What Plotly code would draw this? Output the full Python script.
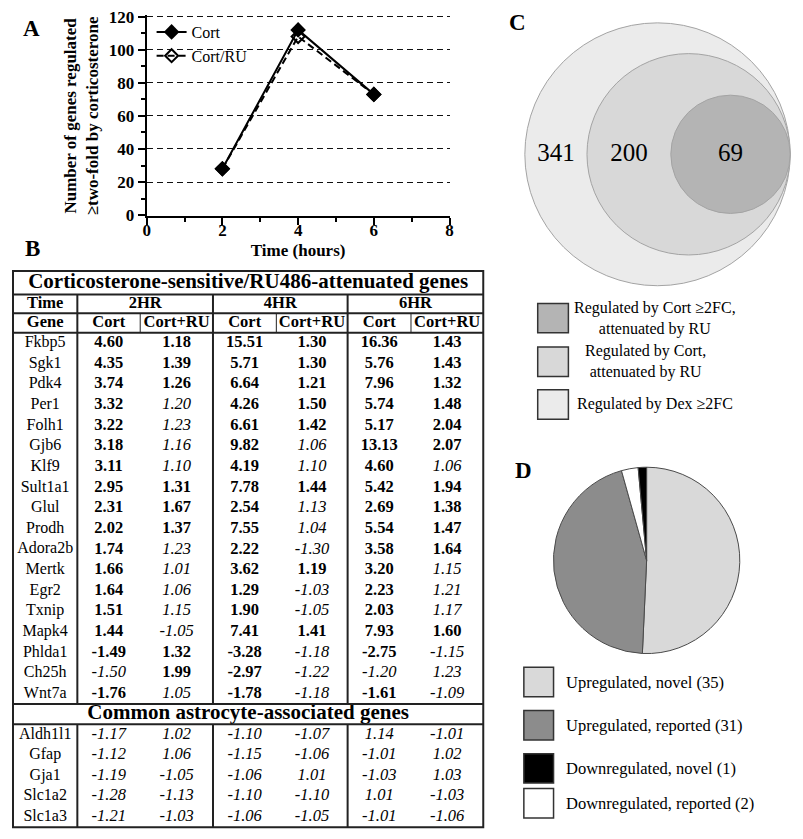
import math
import plotly.graph_objects as go

W, H = 803, 839
OFF = 8  # the page shows the figure shifted by the body margin
FONT = "Liberation Serif"

# ---------------- data ----------------
# A: number of genes regulated >= two-fold
time_hours = [2, 4, 6]
cort_counts = [28, 112, 73]
cort_ru_counts = [28, 108, 73]
x_ticks = [0, 2, 4, 6, 8]
y_ticks = [0, 20, 40, 60, 80, 100, 120]

# B: fold changes (2HR Cort, 2HR Cort+RU, 4HR Cort, 4HR Cort+RU, 6HR Cort, 6HR Cort+RU)
time_groups = ["2HR", "4HR", "6HR"]
treatments = ["Cort", "Cort+RU"]
table_title = "Corticosterone-sensitive/RU486-attenuated genes"
section_title = "Common astrocyte-associated genes"

genes_sensitive = ["Fkbp5", "Sgk1", "Pdk4", "Per1", "Folh1", "Gjb6", "Klf9", "Sult1a1",
                   "Glul", "Prodh", "Adora2b", "Mertk", "Egr2", "Txnip", "Mapk4",
                   "Phlda1", "Ch25h", "Wnt7a"]
fc_sensitive = [
    [4.60, 1.18, 15.51, 1.30, 16.36, 1.43],
    [4.35, 1.39, 5.71, 1.30, 5.76, 1.43],
    [3.74, 1.26, 6.64, 1.21, 7.96, 1.32],
    [3.32, 1.20, 4.26, 1.50, 5.74, 1.48],
    [3.22, 1.23, 6.61, 1.42, 5.17, 2.04],
    [3.18, 1.16, 9.82, 1.06, 13.13, 2.07],
    [3.11, 1.10, 4.19, 1.10, 4.60, 1.06],
    [2.95, 1.31, 7.78, 1.44, 5.42, 1.94],
    [2.31, 1.67, 2.54, 1.13, 2.69, 1.38],
    [2.02, 1.37, 7.55, 1.04, 5.54, 1.47],
    [1.74, 1.23, 2.22, -1.30, 3.58, 1.64],
    [1.66, 1.01, 3.62, 1.19, 3.20, 1.15],
    [1.64, 1.06, 1.29, -1.03, 2.23, 1.21],
    [1.51, 1.15, 1.90, -1.05, 2.03, 1.17],
    [1.44, -1.05, 7.41, 1.41, 7.93, 1.60],
    [-1.49, 1.32, -3.28, -1.18, -2.75, -1.15],
    [-1.50, 1.99, -2.97, -1.22, -1.20, 1.23],
    [-1.76, 1.05, -1.78, -1.18, -1.61, -1.09],
]
# 1 = significant (bold), 0 = not significant (italic)
sig_sensitive = [
    [1, 1, 1, 1, 1, 1],
    [1, 1, 1, 1, 1, 1],
    [1, 1, 1, 1, 1, 1],
    [1, 0, 1, 1, 1, 1],
    [1, 0, 1, 1, 1, 1],
    [1, 0, 1, 0, 1, 1],
    [1, 0, 1, 0, 1, 0],
    [1, 1, 1, 1, 1, 1],
    [1, 1, 1, 0, 1, 1],
    [1, 1, 1, 0, 1, 1],
    [1, 0, 1, 0, 1, 1],
    [1, 0, 1, 1, 1, 0],
    [1, 0, 1, 0, 1, 0],
    [1, 0, 1, 0, 1, 0],
    [1, 0, 1, 1, 1, 1],
    [1, 1, 1, 0, 1, 0],
    [0, 1, 1, 0, 0, 0],
    [1, 0, 1, 0, 1, 0],
]
genes_astro = ["Aldh1l1", "Gfap", "Gja1", "Slc1a2", "Slc1a3"]
fc_astro = [
    [-1.17, 1.02, -1.10, -1.07, 1.14, -1.01],
    [-1.12, 1.06, -1.15, -1.06, -1.01, 1.02],
    [-1.19, -1.05, -1.06, 1.01, -1.03, 1.03],
    [-1.28, -1.13, -1.10, -1.10, 1.01, -1.03],
    [-1.21, -1.03, -1.06, -1.05, -1.01, -1.06],
]

# C: nested gene sets (area proportional to count)
venn_counts = [341, 200, 69]
venn_legend = ["Regulated by Cort \u22652FC,<br>attenuated by RU",
               "Regulated by Cort,<br>attenuated by RU",
               "Regulated by Dex \u22652FC"]

# D: composition of the 69 genes
pie_labels = ["Upregulated, novel", "Upregulated, reported",
              "Downregulated, novel", "Downregulated, reported"]
pie_counts = [35, 31, 1, 2]
pie_order = [0, 1, 3, 2]  # clockwise from 12 o'clock


# ---------------- helpers (page pixels -> paper fractions) ----------------
def fx(px):
    return min(1.0, max(0.0, (px - OFF) / W))


def fy(py):
    return min(1.0, max(0.0, 1 - (py - OFF) / H))


fig = go.Figure()
shapes = []
annotations = []

# ---------------- panel A ----------------
fig.add_trace(go.Scatter(
    x=time_hours, y=cort_ru_counts, name="Cort/RU", mode="lines+markers",
    line=dict(color="black", width=2, dash="7px,4px"),
    marker=dict(symbol="diamond-open", size=10, color="black", line=dict(width=2, color="black")),
    legendrank=2, xaxis="x", yaxis="y"))
fig.add_trace(go.Scatter(
    x=time_hours, y=cort_counts, name="Cort", mode="lines+markers",
    line=dict(color="black", width=2),
    marker=dict(symbol="diamond", size=12, color="black"),
    legendrank=1, xaxis="x", yaxis="y"))

annotations.append(dict(
    text="<b>Number of genes regulated<br>\u2265two-fold by corticosterone</b>",
    textangle=-90, xref="paper", yref="paper", x=fx(78), y=fy(111),
    xanchor="center", yanchor="middle", showarrow=False,
    font=dict(family=FONT, size=17, color="black")))

# y axis pixel geometry (0 at 212 px, 120 at 9 px)
ky = (212 - 9) / 120
y_lo, y_hi = -0.4, 121

# ---------------- panel B (table) ----------------
T_TOP, T_TITLE, T_TIME, T_HEAD = 269, 293, 312, 332
T_SEC_TOP, T_SEC_BOT, T_BOT = 710.5, 731, 836
col_edges = [9, 74, 137.5, 211, 275, 347, 411, 484]
gene_x = (col_edges[0] + col_edges[1]) / 2
val_x = [(col_edges[i] + col_edges[i + 1]) / 2 for i in range(1, 7)]
group_x = [(col_edges[1 + 2 * g] + col_edges[3 + 2 * g]) / 2 for g in range(3)]
table_left, table_right = col_edges[0], col_edges[-1]

bx, by, bt = [], [], []   # bold header text
gx, gy, gt = [], [], []   # gene names
vx, vy, vt = [], [], []   # values

bx += [gene_x] + group_x
by += [(T_TITLE + T_TIME) / 2] * 4
bt += ["<b>Time</b>"] + [f"<b>{g}</b>" for g in time_groups]
bx += [gene_x] + val_x
by += [(T_TIME + T_HEAD) / 2] * 7
bt += ["<b>Gene</b>"] + [f"<b>{t}</b>" for g in time_groups for t in treatments]


def fmt(v, bold):
    s = f"{v:.2f}"
    return f"<b>{s}</b>" if bold else f"<i>{s}</i>"


rh1 = (T_SEC_TOP - T_HEAD) / len(genes_sensitive)
for i, gname in enumerate(genes_sensitive):
    yc = T_HEAD + (i + 0.5) * rh1
    gx.append(gene_x); gy.append(yc); gt.append(gname)
    for j, v in enumerate(fc_sensitive[i]):
        vx.append(val_x[j]); vy.append(yc); vt.append(fmt(v, sig_sensitive[i][j]))
rh2 = (T_BOT - T_SEC_BOT) / len(genes_astro)
for i, gname in enumerate(genes_astro):
    yc = T_SEC_BOT + (i + 0.5) * rh2
    gx.append(gene_x); gy.append(yc); gt.append(gname)
    for j, v in enumerate(fc_astro[i]):
        vx.append(val_x[j]); vy.append(yc); vt.append(fmt(v, 0))

tx = [(table_left + table_right) / 2] * 2
ty = [(T_TOP + T_TITLE) / 2, (T_SEC_TOP + T_SEC_BOT) / 2]
tt = [f"<b>{table_title}</b>", f"<b>{section_title}</b>"]

for xs, ys, ts, size in [(tx, ty, tt, 21), (bx, by, bt, 16.5), (gx, gy, gt, 16), (vx, vy, vt, 16.5)]:
    fig.add_trace(go.Scatter(x=xs, y=ys, text=ts, mode="text", textposition="middle center",
                             textfont=dict(family=FONT, size=size, color="black"),
                             hoverinfo="skip", showlegend=False, xaxis="x3", yaxis="y3"))

LC = "#222222"
shapes.append(dict(type="rect", xref="x3", yref="y3", x0=table_left, x1=table_right,
                   y0=T_TOP, y1=T_BOT, line=dict(color=LC, width=2)))
for yl in [T_TITLE, T_TIME, T_HEAD, T_SEC_TOP, T_SEC_BOT]:
    shapes.append(dict(type="line", xref="x3", yref="y3", x0=table_left, x1=table_right,
                       y0=yl, y1=yl, line=dict(color=LC, width=2)))
for xl in [col_edges[1], col_edges[3], col_edges[5]]:
    for y0, y1 in [(T_TITLE, T_SEC_TOP), (T_SEC_BOT, T_BOT)]:
        shapes.append(dict(type="line", xref="x3", yref="y3", x0=xl, x1=xl, y0=y0, y1=y1,
                           line=dict(color=LC, width=2)))
for xl in [col_edges[2], col_edges[4], col_edges[6]]:
    shapes.append(dict(type="line", xref="x3", yref="y3", x0=xl, x1=xl, y0=T_TIME, y1=T_HEAD,
                       line=dict(color=LC, width=1)))

# ---------------- panel C (nested circles) ----------------
venn_fill = ["#ebebeb", "#d8d8d8", "#b4b4b4"]
radii = [math.sqrt(n) for n in venn_counts]
R = radii[0]
centers = [R - r for r in radii]  # all circles touch at the right edge
for c, r, col in zip(centers, radii, venn_fill):
    shapes.append(dict(type="circle", xref="x2", yref="y2", x0=c - r, x1=c + r, y0=-r, y1=r,
                       fillcolor=col, line=dict(color="#a3a3a3", width=1), layer="below"))
lab_x = [(centers[0] - radii[0] + centers[1] - radii[1]) / 2,
         (centers[1] - radii[1] + centers[2] - radii[2]) / 2,
         centers[2]]
fig.add_trace(go.Scatter(x=lab_x, y=[0, 0, 0], text=[str(n) for n in venn_counts], mode="text",
                         textfont=dict(family=FONT, size=25, color="black"),
                         hoverinfo="skip", showlegend=False, xaxis="x2", yaxis="y2"))

c_scale = 134 / R
c_cx, c_cy, pad = 660, 150, 0.2
c_half = (R + pad) * c_scale

# legend of C
c_leg_y = [317, 361.5, 405]
c_leg_tx = [657, 648, 657]
for k, (yc, txc) in enumerate(zip(c_leg_y, c_leg_tx)):
    shapes.append(dict(type="rect", xref="paper", yref="paper", x0=fx(539), x1=fx(570),
                       y0=fy(yc + 15), y1=fy(yc - 15), fillcolor=venn_fill[2 - k],
                       line=dict(color="#333333", width=1.5)))
    annotations.append(dict(text=venn_legend[k], xref="paper", yref="paper", x=fx(txc), y=fy(yc),
                            xanchor="center", yanchor="middle", align="center", showarrow=False,
                            font=dict(family=FONT, size=16, color="black")))

# ---------------- panel D (pie) ----------------
pie_colors = ["#d9d9d9", "#8c8c8c", "#000000", "#ffffff"]
fig.add_trace(go.Pie(
    values=[pie_counts[i] for i in pie_order],
    labels=[pie_labels[i] for i in pie_order],
    marker=dict(colors=[pie_colors[i] for i in pie_order], line=dict(color="#4a4a4a", width=1)),
    direction="clockwise", sort=False, rotation=0, textinfo="none", showlegend=False,
    domain=dict(x=[fx(554), fx(744)], y=[fy(659), fy(469)])))

d_leg_y = [688, 732, 776, 811.5]
for k, yc in enumerate(d_leg_y):
    shapes.append(dict(type="rect", xref="paper", yref="paper", x0=fx(525), x1=fx(555),
                       y0=fy(yc + 15), y1=fy(yc - 15), fillcolor=pie_colors[k],
                       line=dict(color="#333333", width=1.5)))
    annotations.append(dict(text=f"{pie_labels[k]} ({pie_counts[k]})", xref="paper", yref="paper",
                            x=fx(566), y=fy(yc), xanchor="left", yanchor="middle", showarrow=False,
                            font=dict(family=FONT, size=16.5, color="black")))

# ---------------- panel letters ----------------
for letter, px, py in [("A", 28, 22), ("B", 29, 246), ("C", 519, 16), ("D", 525, 472)]:
    annotations.append(dict(text=f"<b>{letter}</b>", xref="paper", yref="paper", x=fx(px), y=fy(py),
                            xanchor="center", yanchor="middle", showarrow=False,
                            font=dict(family=FONT, size=23, color="black")))

# ---------------- layout ----------------
tickfont = dict(family=FONT, size=17, color="black", weight="bold")
fig.update_layout(
    width=W, height=H, margin=dict(l=0, r=0, t=0, b=0),
    paper_bgcolor="white", plot_bgcolor="rgba(0,0,0,0)",
    font=dict(family=FONT, color="black"),
    xaxis=dict(domain=[fx(144), fx(450)], range=[0, 8], tickvals=x_ticks, anchor="y",
               showline=True, linewidth=2, linecolor="black", ticks="outside", ticklen=7,
               tickwidth=2, tickcolor="black", showgrid=False, zeroline=False, tickfont=tickfont,
               ticklabelstandoff=-9, ticklabeloverflow="allow",
               minor=dict(dtick=1, tick0=0, ticks="outside", ticklen=4, tickwidth=2,
                          tickcolor="black", showgrid=False),
               title=dict(text="<b>Time (hours)</b>", font=dict(family=FONT, size=17, color="black"),
                          standoff=5)),
    yaxis=dict(domain=[fy(212 - y_lo * ky), fy(212 - y_hi * ky)], range=[y_lo, y_hi],
               tickvals=y_ticks, anchor="x",
               showline=True, linewidth=2, linecolor="black", ticks="outside", ticklen=7,
               tickwidth=2, tickcolor="black", showgrid=True, gridcolor="#111111",
               griddash="6px,4px", gridwidth=1, zeroline=False, tickfont=tickfont,
               ticklabeloverflow="allow",
               minor=dict(dtick=10, tick0=0, ticks="outside", ticklen=4, tickwidth=2,
                          tickcolor="black", showgrid=False)),
    xaxis2=dict(domain=[fx(c_cx - c_half), fx(c_cx + c_half)], range=[-R - pad, R + pad],
                visible=False, anchor="y2"),
    yaxis2=dict(domain=[fy(c_cy + c_half), fy(c_cy - c_half)], range=[-R - pad, R + pad],
                visible=False, anchor="x2"),
    xaxis3=dict(domain=[fx(OFF), fx(498)], range=[OFF, 498], visible=False, anchor="y3"),
    yaxis3=dict(domain=[fy(H + OFF), fy(262)], range=[H + OFF, 262], visible=False, anchor="x3"),
    legend=dict(x=fx(149), y=fy(OFF), xanchor="left", yanchor="top", bgcolor="rgba(0,0,0,0)",
                font=dict(family=FONT, size=16, color="black"), itemwidth=30, tracegroupgap=0),
    shapes=shapes, annotations=annotations,
)

fig.write_html("out.html")
